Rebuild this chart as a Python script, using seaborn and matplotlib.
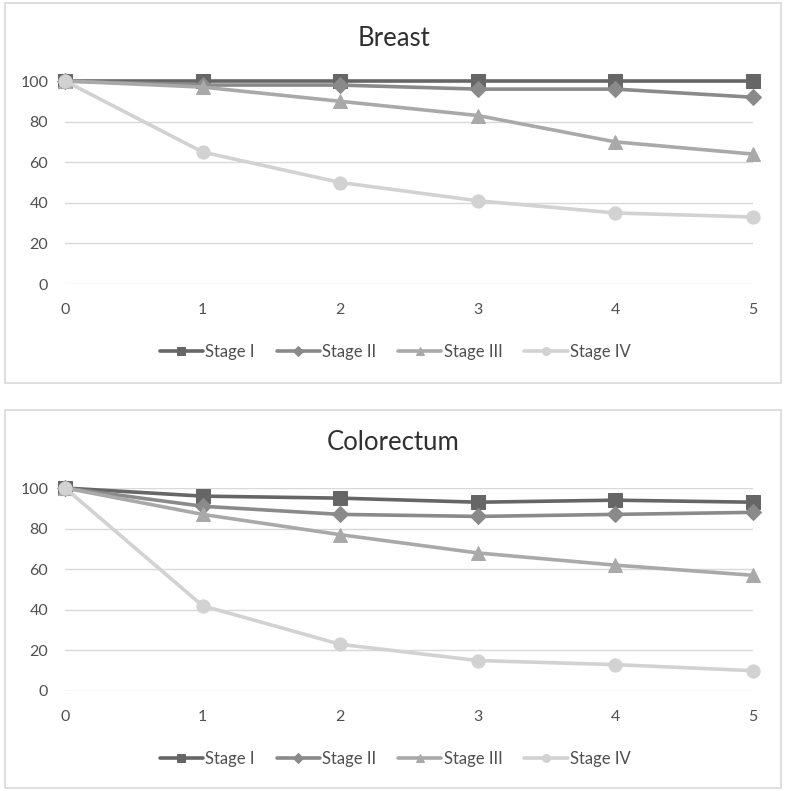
import numpy as np
import pandas as pd
import matplotlib
matplotlib.use("Agg")
import matplotlib.pyplot as plt
from matplotlib.patches import Rectangle
import seaborn as sns

# data (years 0-5, survival %)
years = [0, 1, 2, 3, 4, 5]
stages = ["Stage I", "Stage II", "Stage III", "Stage IV"]

breast_stage1 = [100, 100, 100, 100, 100, 100]
breast_stage2 = [100, 98, 98, 96, 96, 92]
breast_stage3 = [100, 97, 90, 83, 70, 64]
breast_stage4 = [100, 65, 50, 41, 35, 33]

colo_stage1 = [100, 96, 95, 93, 94, 93]
colo_stage2 = [100, 91, 87, 86, 87, 88]
colo_stage3 = [100, 87, 77, 68, 62, 57]
colo_stage4 = [100, 42, 23, 15, 13, 10]

y_ticks = [0, 20, 40, 60, 80, 100]

colors = ["#666666", "#8a8a8a", "#a9a9a9", "#d2d2d2"]
markers = ["s", "D", "^", "o"]
msizes = [10, 8, 10, 9.5]


def to_long(series):
    rows = []
    for st, vals in zip(stages, series):
        for x, v in zip(years, vals):
            rows.append({"Year": x, "Survival": v, "Stage": st})
    return pd.DataFrame(rows)


sns.set_theme(style="white")
plt.rcParams["font.family"] = ["Lato", "DejaVu Sans"]

W, H = 787, 791
fig = plt.figure(figsize=(W / 100, H / 100), dpi=100)

# panel frames
for (x0, y0, x1, y1) in [(5, 3, 781, 383), (5, 410, 781, 788)]:
    fig.patches.append(Rectangle((x0 / W, 1 - y1 / H), (x1 - x0) / W, (y1 - y0) / H,
                                 transform=fig.transFigure, fill=False,
                                 edgecolor="#d9d9d9", linewidth=1.2))

panels = [
    ("Breast", [breast_stage1, breast_stage2, breast_stage3, breast_stage4], 81, 284, 38, 352),
    ("Colorectum", [colo_stage1, colo_stage2, colo_stage3, colo_stage4], 488, 691, 443, 759),
]

for title, series, ytop, ybot, ttl_y, leg_y in panels:
    ax = fig.add_axes([65 / W, 1 - ybot / H, 688 / W, (ybot - ytop) / H])
    df = to_long(series)
    for st, col, mk, ms in zip(stages, colors, markers, msizes):
        sub = df[df["Stage"] == st]
        sns.lineplot(data=sub, x="Year", y="Survival", ax=ax, color=col,
                     linewidth=2.6, marker=mk, markersize=ms,
                     markeredgecolor=col, label=st, clip_on=False)
    ax.set_xlim(0, 5)
    ax.set_ylim(0, 100)
    ax.set_xticks(years)
    ax.set_yticks(y_ticks)
    ax.grid(axis="y", color="#d9d9d9", linewidth=1)
    ax.grid(axis="x", visible=False)
    ax.set_axisbelow(True)
    for s in ax.spines.values():
        s.set_visible(False)
    ax.tick_params(axis="x", length=0, pad=14, labelsize=11.5, labelcolor="#505050")
    ax.tick_params(axis="y", length=0, pad=12, labelsize=11.5, labelcolor="#505050")
    ax.set_xlabel("")
    ax.set_ylabel("")
    fig.text(0.5, 1 - ttl_y / H, title, ha="center", va="center",
             fontsize=18.5, color="#303030")
    leg = ax.legend(loc="center", bbox_to_anchor=(0.48, (ybot - leg_y) / (ybot - ytop)),
                    ncol=4, frameon=False, fontsize=12, markerscale=0.6,
                    handlelength=2.6, handletextpad=0.15, columnspacing=1.3)
    for t in leg.get_texts():
        t.set_color("#505050")

fig.savefig("out.png", dpi=100)
